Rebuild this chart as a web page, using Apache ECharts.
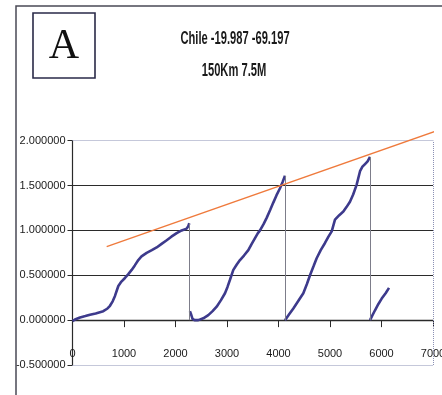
<!DOCTYPE html>
<html>
<head>
<meta charset="utf-8">
<script src="https://cdn.jsdelivr.net/npm/echarts@6/dist/echarts.min.js"></script>
<style>
html,body{margin:0;padding:0;background:#fff;}
#c{width:442px;height:395px;}
</style>
</head>
<body>
<div id="c"></div>
<script>
// ---- data ----
const titleLine1 = 'Chile -19.987 -69.197';
const titleLine2 = '150Km 7.5M';
const panelLabel = 'A';

const xTicks = [0, 1000, 2000, 3000, 4000, 5000, 6000, 7000];
const yTicks = [-0.5, 0, 0.5, 1.0, 1.5, 2.0];

const seg1 = [[0,-0.01],[60,0.01],[146,0.03],[250,0.045],[340,0.06],[450,0.075],[598,0.10],[680,0.13],[728,0.16],[780,0.21],[825,0.27],[860,0.33],[890,0.38],[950,0.43],[1019,0.47],[1080,0.51],[1149,0.56],[1210,0.61],[1278,0.67],[1340,0.71],[1440,0.75],[1540,0.78],[1634,0.81],[1730,0.85],[1829,0.89],[1920,0.93],[2023,0.97],[2120,1.0],[2217,1.02],[2250,1.05],[2268,1.08]];
const seg2 = [[2280,0.1],[2300,0.07],[2330,0.015],[2370,0.0],[2443,0.0],[2540,0.02],[2637,0.056],[2720,0.1],[2799,0.15],[2880,0.22],[2961,0.30],[3010,0.37],[3058,0.45],[3123,0.56],[3190,0.62],[3252,0.67],[3330,0.72],[3414,0.78],[3480,0.85],[3544,0.915],[3600,0.97],[3641,1.0],[3710,1.07],[3770,1.14],[3840,1.23],[3899,1.31],[3960,1.39],[4029,1.47],[4080,1.54],[4126,1.61]];
const seg3 = [[4126,0.0],[4200,0.06],[4288,0.13],[4380,0.21],[4482,0.30],[4550,0.40],[4612,0.50],[4680,0.60],[4741,0.69],[4820,0.78],[4903,0.86],[4970,0.93],[5033,0.99],[5097,1.12],[5180,1.17],[5259,1.21],[5320,1.26],[5388,1.32],[5450,1.40],[5518,1.51],[5583,1.66],[5630,1.71],[5680,1.74],[5730,1.77],[5777,1.82]];
const seg4 = [[5777,0.0],[5820,0.05],[5874,0.11],[5940,0.18],[6004,0.24],[6080,0.30],[6146,0.36]];

const trendX = [664, 7170];
const trendY = [0.82, 2.13];

const dropX = [2268, 4126, 5777];
const dropTop = [1.08, 1.61, 1.82];

// ---- chart ----
const FONT = '"Liberation Sans", Arial, sans-serif';
const chart = echarts.init(document.getElementById('c'), null, {renderer: 'canvas'});

const dataLine = {color: '#3d3a8c', width: 2.6};
function segSeries(d, extra) {
  return Object.assign({
    type: 'line', data: d, showSymbol: false, symbol: 'none',
    lineStyle: dataLine, z: 4, silent: true, animation: false
  }, extra || {});
}

chart.setOption({
  animation: false,
  backgroundColor: '#ffffff',
  grid: {left: 72.5, right: 9, top: 140.7, bottom: 30, containLabel: false, outerBoundsMode: 'none'},
  xAxis: {
    type: 'value', min: xTicks[0], max: xTicks[xTicks.length - 1], interval: 1000,
    axisLine: {onZero: true, lineStyle: {color: '#2a2a2a', width: 1.3}},
    axisTick: {show: true, inside: false, length: 7, lineStyle: {color: '#2a2a2a'}},
    axisLabel: {margin: -17, fontFamily: FONT, fontSize: 11, color: '#1a1a1a',
      formatter: v => String(v)},
    splitLine: {show: false}
  },
  yAxis: {
    type: 'value', min: yTicks[0], max: yTicks[yTicks.length - 1], interval: 0.5,
    axisLine: {show: true, onZero: false, lineStyle: {color: '#2a2a2a', width: 1.2}},
    axisTick: {show: true, inside: false, length: 5, lineStyle: {color: '#2a2a2a'}},
    axisLabel: {margin: 7, fontFamily: FONT, fontSize: 11, color: '#1a1a1a',
      formatter: v => v.toFixed(6)},
    splitLine: {show: true, lineStyle: {
      color: ['rgba(0,0,0,0)', 'rgba(0,0,0,0)', '#2b2b2b', '#2b2b2b', '#2b2b2b', 'rgba(0,0,0,0)'],
      width: 1.1}}
  },
  series: [
    {
      type: 'line', data: trendX.map((x, i) => [x, trendY[i]]),
      showSymbol: false, symbol: 'none', clip: false, z: 5, silent: true,
      lineStyle: {color: '#ef7a3c', width: 1.4},
      markLine: {
        silent: true, symbol: 'none', label: {show: false}, animation: false,
        lineStyle: {color: '#8b90b4', type: 'dotted', width: 1},
        data: [{yAxis: yTicks[yTicks.length - 1]}, {yAxis: yTicks[0]}, {xAxis: xTicks[xTicks.length - 1]}]
      }
    },
    segSeries(seg1, {
      markLine: {
        silent: true, symbol: 'none', label: {show: false}, animation: false,
        lineStyle: {color: '#7d7d8a', type: 'solid', width: 1},
        data: dropX.map((x, i) => [{coord: [x, dropTop[i]]}, {coord: [x, 0]}])
      }
    }),
    segSeries(seg2),
    segSeries(seg3),
    segSeries(seg4)
  ],
  graphic: [
    {type: 'rect', shape: {x: 16, y: 6, width: 440, height: 400},
      style: {fill: 'none', stroke: '#4a4a55', lineWidth: 1.5}, z: 10, silent: true},
    {type: 'rect', shape: {x: 33, y: 13, width: 62, height: 65},
      style: {fill: '#fff', stroke: '#2a2a48', lineWidth: 1.6}, z: 10, silent: true},
    {type: 'text', x: 64, y: 47, z: 11, silent: true,
      style: {text: panelLabel, font: '42px "Liberation Serif", "DejaVu Serif", serif',
        fill: '#111', align: 'center', verticalAlign: 'middle'}},
    {type: 'text', x: 235, y: 39.5, z: 11, silent: true, scaleX: 0.62,
      style: {text: titleLine1, font: 'bold 18px ' + FONT, fill: '#1a1a1a',
        align: 'center', verticalAlign: 'middle'}},
    {type: 'text', x: 234, y: 71.5, z: 11, silent: true, scaleX: 0.62,
      style: {text: titleLine2, font: 'bold 18px ' + FONT, fill: '#1a1a1a',
        align: 'center', verticalAlign: 'middle'}}
  ]
});
</script>
</body>
</html>
